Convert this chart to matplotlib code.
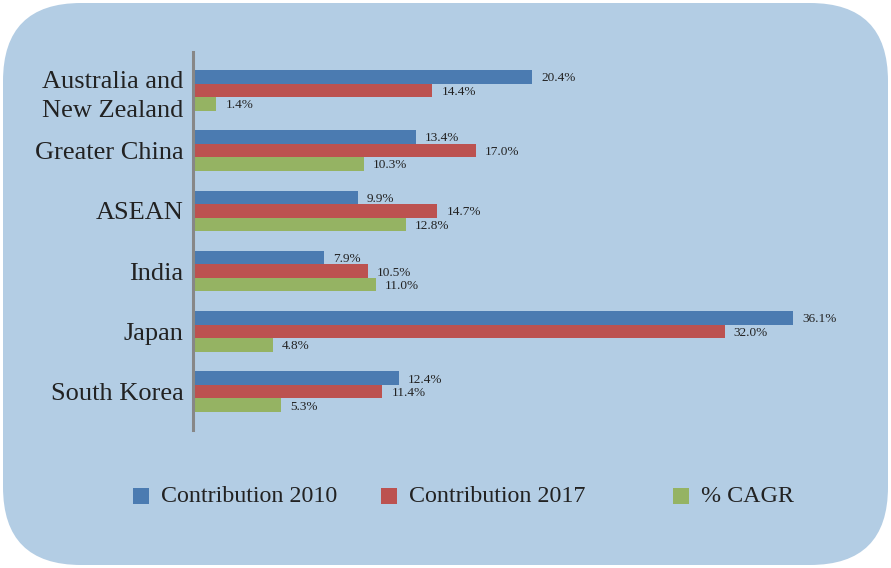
import numpy as np
import matplotlib
matplotlib.use('Agg')
import matplotlib.pyplot as plt
from matplotlib.patches import FancyBboxPatch, Rectangle

plt.rcParams['font.family'] = ['Liberation Serif', 'DejaVu Serif']

regions = ['Australia and\nNew Zealand', 'Greater China', 'ASEAN', 'India', 'Japan', 'South Korea']
contrib_2010 = [20.4, 13.4, 9.9, 7.9, 36.1, 12.4]
contrib_2017 = [14.4, 17.0, 14.7, 10.5, 32.0, 11.4]
cagr = [1.4, 10.3, 12.8, 11.0, 4.8, 5.3]
series_names = ['Contribution 2010', 'Contribution 2017', '% CAGR']

colors = ['#4b7bb1', '#bc5250', '#95b363']
bg_color = '#b3cde4'
text_color = '#222222'

W, H = 891, 568
fig = plt.figure(figsize=(W / 100, H / 100), dpi=100)

# rounded panel behind everything, drawn in pixel units
bg = fig.add_axes([0, 0, 1, 1])
bg.set_xlim(0, W)
bg.set_ylim(0, H)
bg.axis('off')
bg.add_patch(FancyBboxPatch((3, 3), W - 6, H - 6,
                            boxstyle='round,pad=0,rounding_size=78',
                            facecolor=bg_color, edgecolor='none'))

# legend squares and texts
legend_x = [133, 381, 673]
for name, col, lx in zip(series_names, colors, legend_x):
    bg.add_patch(Rectangle((lx, H - 504), 16, 16, facecolor=col, edgecolor='none'))
    bg.text(lx + 28, H - 496, name, fontsize=17.3, color=text_color, va='center', ha='left')

left, right, top, bottom = 193, 830, 52, 430
ax = fig.add_axes([left / W, 1 - bottom / H, (right - left) / W, (bottom - top) / H])
ax.patch.set_alpha(0)

y = np.arange(len(regions))
h = 0.224
for k, (vals, col) in enumerate(zip([contrib_2010, contrib_2017, cagr], colors)):
    pos = y + (k - 1) * h
    ax.barh(pos, vals, height=h, color=col, edgecolor='none')
    for p, v in zip(pos, vals):
        ax.annotate('%.1f%%' % v, xy=(v, p), xytext=(6.5, -1), textcoords='offset points',
                    va='center', ha='left', fontsize=9.5, color=text_color)

ax.set_xlim(0, (right - left) / 16.62)
ax.set_ylim(len(regions) - 1 + 0.635, -0.635)
ax.set_yticks(y)
ax.set_yticklabels(regions, fontsize=19, color=text_color, linespacing=1.45)
ax.set_xticks([])
ax.tick_params(axis='y', length=0, pad=7)
for s in ['top', 'right', 'bottom']:
    ax.spines[s].set_visible(False)
ax.spines['left'].set_color('#878787')
ax.spines['left'].set_linewidth(2.2)

fig.savefig('out.png', dpi=100, facecolor='white')
